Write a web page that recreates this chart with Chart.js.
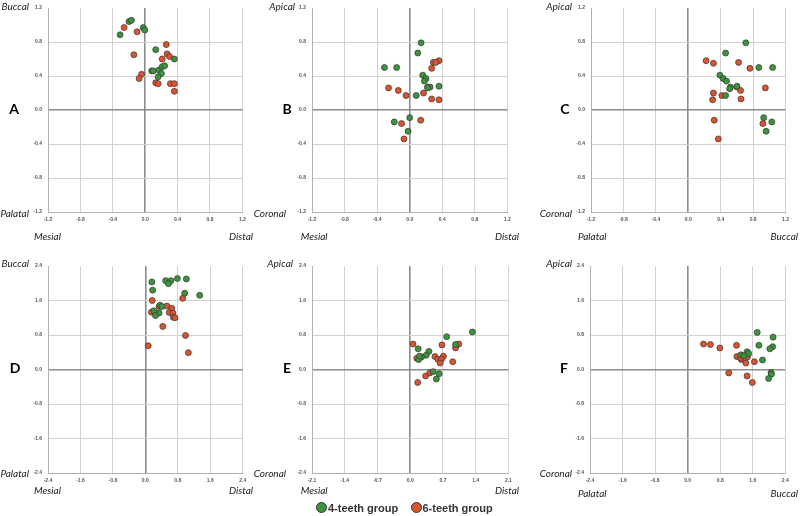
<!DOCTYPE html>
<html>
<head>
<meta charset="utf-8">
<script src="https://cdn.jsdelivr.net/npm/chart.js@4"></script>
<style>
  body { margin: 0; background: #fff; }
  #wrap { position: relative; width: 800px; height: 516px; overflow: hidden; }
  canvas { position: absolute; }
  .lab { position: absolute; font: italic 10px Lato, sans-serif; color: #222; white-space: nowrap; line-height: 10px; }
  .let { position: absolute; font: bold 14px Lato, sans-serif; color: #000; line-height: 14px; }
  #legend { position: absolute; top: 502px; left: 316px; font: bold 11px "Liberation Sans", Arial, sans-serif; color: #333; white-space: nowrap; }
  #legend span.dot { display: inline-block; width: 9px; height: 9px; border-radius: 50%; border: 1px solid #333; vertical-align: -1px; margin-right: 1px; }
</style>
</head>
<body>
<div id="wrap"></div>
<script>
// group names
const groups = ['4-teeth group', '6-teeth group'];

// A: mesial/distal vs palatal/buccal
const aGreen = [[-0.31, 0.885], [-0.20, 1.04], [-0.17, 1.055], [-0.025, 0.97], [-0.005, 0.94], [0.13, 0.71], [0.36, 0.60],
  [0.08, 0.46], [0.10, 0.46], [0.17, 0.47], [0.20, 0.43], [0.16, 0.39], [0.21, 0.51], [0.24, 0.52]];
const aRed = [[-0.26, 0.97], [-0.10, 0.92], [-0.14, 0.65], [-0.045, 0.42], [-0.075, 0.37], [0.26, 0.77], [0.27, 0.66],
  [0.30, 0.63], [0.21, 0.60], [0.13, 0.32], [0.16, 0.31], [0.31, 0.31], [0.36, 0.31], [0.36, 0.22]];

// B: mesial/distal vs coronal/apical
const bGreen = [[0.14, 0.79], [0.10, 0.67], [-0.31, 0.50], [-0.16, 0.50], [0.16, 0.41], [0.20, 0.37], [0.18, 0.34],
  [0.25, 0.27], [0.22, 0.26], [0.36, 0.28], [0.08, 0.17], [0.0, -0.09], [-0.19, -0.14], [-0.02, -0.25]];
const bRed = [[0.36, 0.58], [0.29, 0.56], [0.32, 0.56], [0.27, 0.49], [0.22, 0.27], [-0.26, 0.26], [-0.14, 0.23],
  [-0.045, 0.17], [0.17, 0.20], [0.27, 0.13], [0.36, 0.12], [0.135, -0.12], [-0.10, -0.16], [-0.07, -0.34]];

// C: palatal/buccal vs coronal/apical
const cGreen = [[0.71, 0.79], [0.46, 0.67], [0.87, 0.50], [1.04, 0.50], [0.39, 0.41], [0.43, 0.37], [0.47, 0.34],
  [0.52, 0.27], [0.51, 0.25], [0.60, 0.28], [0.46, 0.17], [0.93, -0.09], [1.03, -0.14], [0.96, -0.25]];
const cRed = [[0.22, 0.58], [0.31, 0.55], [0.62, 0.56], [0.76, 0.49], [0.95, 0.26], [0.31, 0.20], [0.30, 0.12],
  [0.415, 0.17], [0.60, 0.27], [0.645, 0.23], [0.65, 0.13], [0.32, -0.12], [0.37, -0.34], [0.92, -0.16]];

// D
const dGreen = [[0.16, 2.03], [0.18, 1.84], [0.50, 2.06], [0.63, 2.06], [0.57, 1.99], [0.79, 2.11], [1.01, 2.10],
  [0.97, 1.77], [1.34, 1.72], [0.36, 1.49], [0.41, 1.46], [0.21, 1.36], [0.34, 1.31], [0.25, 1.25]];
const dRed = [[0.17, 1.60], [0.92, 1.65], [0.34, 1.46], [0.53, 1.47], [0.65, 1.42], [0.15, 1.33], [0.59, 1.32],
  [0.68, 1.31], [0.69, 1.21], [0.73, 1.20], [0.43, 1.00], [0.99, 0.79], [0.07, 0.55], [1.06, 0.39]];

// E
const eGreen = [[1.33, 0.87], [0.78, 0.76], [0.97, 0.58], [0.17, 0.48], [0.40, 0.42], [0.34, 0.33], [0.24, 0.29],
  [0.18, 0.23], [0.20, 0.31], [0.49, -0.05], [0.62, -0.10], [0.56, -0.22]];
const eRed = [[0.06, 0.59], [0.68, 0.57], [1.04, 0.59], [0.97, 0.50], [0.14, 0.26], [0.53, 0.30], [0.59, 0.24],
  [0.71, 0.31], [0.67, 0.24], [0.64, 0.15], [0.91, 0.18], [0.33, -0.15], [0.42, -0.08], [0.16, -0.30]];

// F
const fGreen = [[1.71, 0.86], [2.10, 0.75], [1.75, 0.56], [2.09, 0.53], [2.02, 0.48], [1.46, 0.41], [1.50, 0.37],
  [1.31, 0.34], [1.38, 0.32], [1.84, 0.22], [2.05, -0.07], [2.06, -0.11], [1.99, -0.21]];
const fRed = [[0.39, 0.59], [0.56, 0.58], [0.79, 0.50], [1.20, 0.56], [1.21, 0.30], [1.47, 0.29], [1.32, 0.23],
  [1.43, 0.15], [1.64, 0.18], [1.01, -0.08], [1.46, -0.15], [1.59, -0.30], [1.30, 0.27]];

// axis ranges [min, max, step]
const xSmall = [-1.2, 1.2, 0.4];
const ySmall = [-1.2, 1.2, 0.4];
const xLarge = [-2.4, 2.4, 0.8];
const yLarge = [-2.4, 2.4, 0.8];
const xE = [-2.1, 2.1, 0.7];

const green = '#3d953b';
const red = '#dc5430';

const wrap = document.getElementById('wrap');

function fmt(v) {
  if (Math.abs(v) < 1e-9) v = 0;
  return v.toFixed(1);
}

function axis(range, isY) {
  return {
    type: 'linear',
    min: range[0],
    max: range[1],
    afterFit: s => { if (isY) s.width = 20; else s.height = 14; },
    ticks: {
      stepSize: range[2],
      padding: isY ? 6 : 5,
      color: '#555',
      font: { family: 'Liberation Sans', size: 5, weight: 'bold' },
      callback: v => fmt(v),
      maxRotation: 0,
      autoSkip: false
    },
    grid: {
      drawTicks: false,
      color: c => {
        const v = c.tick ? c.tick.value : 0;
        if (Math.abs(v) < 1e-9) return '#8c8c8c';
        if (isY && Math.abs(v - range[1]) < 1e-9) return 'rgba(0,0,0,0)';
        return '#d2d2d2';
      },
      lineWidth: c => (c.tick && Math.abs(c.tick.value) < 1e-9 ? 1.6 : 1)
    },
    border: { display: true, color: '#b0b0b0', width: 1 }
  };
}

function toPts(arr) {
  return arr.map(p => ({ x: p[0], y: p[1] }));
}

function panel(plotL, plotR, plotT, plotB, xr, yr, gPts, rPts) {
  const left = plotL - 48;
  const top = plotT - 6;
  const w = Math.round(plotR - left + 16);
  const h = Math.round(plotB - top + 22);
  const cv = document.createElement('canvas');
  cv.width = w;
  cv.height = h;
  cv.style.left = left + 'px';
  cv.style.top = top + 'px';
  wrap.appendChild(cv);
  new Chart(cv.getContext('2d'), {
    type: 'scatter',
    data: {
      datasets: [
        { label: groups[0], data: toPts(gPts), backgroundColor: green },
        { label: groups[1], data: toPts(rPts), backgroundColor: red }
      ]
    },
    options: {
      responsive: false,
      animation: false,
      layout: { padding: { left: 28, top: 6, right: w - (plotR - left), bottom: h - (plotB - top) - 14 } },
      elements: { point: { radius: 3, borderWidth: 0.7, borderColor: '#333' } },
      plugins: { legend: { display: false }, tooltip: { enabled: false } },
      scales: { x: axis(xr, false), y: axis(yr, true) }
    }
  });
}

function label(text, x, y, align, cls) {
  const d = document.createElement('div');
  d.className = cls || 'lab';
  d.textContent = text;
  d.style.top = y + 'px';
  if (align === 'right') { d.style.right = (800 - x) + 'px'; }
  else if (align === 'center') { d.style.left = x + 'px'; d.style.transform = 'translateX(-50%)'; }
  else { d.style.left = x + 'px'; }
  wrap.appendChild(d);
}

panel(48.3, 242.7, 5, 212, xSmall, ySmall, aGreen, aRed);
panel(312.3, 507.7, 5, 212, xSmall, ySmall, bGreen, bRed);
panel(590.7, 785.3, 5, 212, xSmall, ySmall, cGreen, cRed);
panel(48.3, 243, 262.7, 472.7, xLarge, yLarge, dGreen, dRed);
panel(312.3, 508.7, 262.7, 472.7, xE, yLarge, eGreen, eRed);
panel(590, 785.3, 262.7, 472.7, xLarge, yLarge, fGreen, fRed);

// row 1 labels
label('Buccal', 29, 1, 'right');
label('Palatal', 29, 208, 'right');
label('Mesial', 34, 231);
label('Distal', 253, 231, 'right');
label('A', 14, 102, 'center', 'let');

label('Apical', 295, 1, 'right');
label('Coronal', 286, 208, 'right');
label('Mesial', 300.7, 231);
label('Distal', 519, 231, 'right');
label('B', 287, 102, 'center', 'let');

label('Apical', 572, 1, 'right');
label('Coronal', 572, 208, 'right');
label('Palatal', 578, 231);
label('Buccal', 798, 231, 'right');
label('C', 565, 102, 'center', 'let');

// row 2 labels
label('Buccal', 29, 258, 'right');
label('Palatal', 29, 468, 'right');
label('Mesial', 34, 485);
label('Distal', 253, 485, 'right');
label('D', 15, 361, 'center', 'let');

label('Apical', 293, 258, 'right');
label('Coronal', 286, 468, 'right');
label('Mesial', 300.7, 485);
label('Distal', 519, 485, 'right');
label('E', 287, 361, 'center', 'let');

label('Apical', 572, 258, 'right');
label('Coronal', 572, 468, 'right');
label('Palatal', 578, 488);
label('Buccal', 798, 488, 'right');
label('F', 564, 361, 'center', 'let');

// legend
const lg = document.createElement('div');
lg.id = 'legend';
lg.innerHTML = '<span class="dot" style="background:' + green + '"></span>' + groups[0] +
  '&nbsp;&nbsp;&nbsp;&nbsp;<span class="dot" style="background:' + red + '"></span>' + groups[1];
wrap.appendChild(lg);
</script>
</body>
</html>
